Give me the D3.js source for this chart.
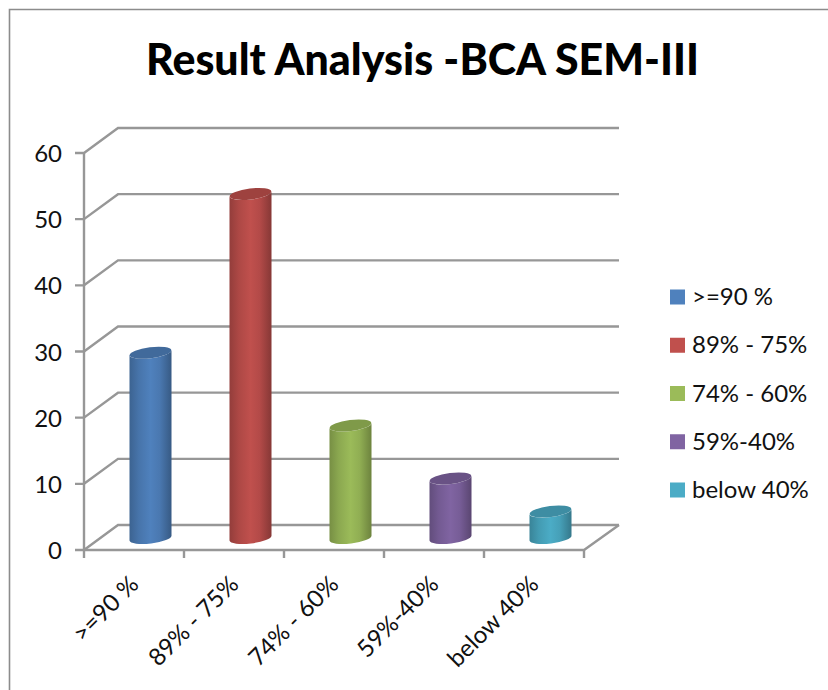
<!DOCTYPE html>
<html>
<head>
<meta charset="utf-8">
<script src="https://d3js.org/d3.v7.min.js"></script>
<style>
html, body { margin: 0; padding: 0; background: #fff; overflow: hidden; }
text { font-family: Lato, "Open Sans", sans-serif; fill: #111; }
</style>
</head>
<body>
<div id="chart"></div>
<script>
// values
let categories = ['>=90 %', '89% - 75%', '74% - 60%', '59%-40%', 'below 40%'];
let values     = [28, 52, 17, 9, 4];
let yTicks     = [0, 10, 20, 30, 40, 50, 60];
let colors     = ['#4f81bd', '#c0504d', '#9bbb59', '#8064a2', '#4bacc6'];

let w = 828;
let h = 690;
let grid = '#979797';

// fake 3d: how far the back wall sits from the front of the floor
let depth = {x: 34, y: -25};

let svg = d3.select('#chart').append('svg').attr('width', w).attr('height', h)
    .style('display', 'block');

let x = d3.scaleBand().domain(categories).range([84, 584]);
let y = d3.scaleLinear().domain([0, 60]).range([550, 153]);

// frame
svg.append('path')
    .attr('d', 'M9.5,690V9.5H828')
    .attr('fill', 'none').attr('stroke', '#8c8c8c').attr('stroke-width', 1.6);

svg.append('text')
    .attr('x', 422.5).attr('y', 75)
    .attr('text-anchor', 'middle')
    .attr('font-size', 43.4).attr('font-weight', 900)
    .attr('textLength', 553).attr('lengthAdjust', 'spacingAndGlyphs')
    .style('fill', '#000')
    .text('Result Analysis -BCA SEM-III');

// walls
let wall = svg.append('g').attr('fill', 'none').attr('stroke', grid).attr('stroke-width', 2.4);

yTicks.forEach(t => {
    wall.append('path')
        .attr('d', d3.line()([
            [75, y(t)],
            [84, y(t)],
            [84 + depth.x, y(t) + depth.y],
            [584 + depth.x + 1, y(t) + depth.y]
        ]));
});

wall.append('line').attr('x1', 84).attr('x2', 84).attr('y1', y(60)).attr('y2', y(0));
wall.append('path').attr('d', d3.line()([
    [84, y(0)], [584, y(0)], [584 + depth.x + 1, y(0) + depth.y]
]));

// x ticks sit on the band edges
categories.concat([null]).forEach((c, i) => {
    let px = c === null ? x.range()[1] : x(c);
    wall.append('line').attr('x1', px).attr('x2', px).attr('y1', y(0)).attr('y2', y(0) + 8);
});

// cylinder shading
let defs = svg.append('defs');
colors.forEach((c, i) => {
    let grad = defs.append('linearGradient').attr('id', 'cyl' + i);
    let col = d3.rgb(c);
    grad.append('stop').attr('offset', '0%').attr('stop-color', col.darker(0.75));
    grad.append('stop').attr('offset', '22%').attr('stop-color', col.darker(0.3));
    grad.append('stop').attr('offset', '50%').attr('stop-color', col);
    grad.append('stop').attr('offset', '72%').attr('stop-color', col.darker(0.2));
    grad.append('stop').attr('offset', '100%').attr('stop-color', col.darker(1));
});

// bars
let barW = 42;
let rx = barW / 2;
let ry = 5.5;
let tilt = 2.6;          // right side of the ellipse sits this much higher
let barOff = {x: 16.5, y: -12};

let bars = svg.selectAll('g.bar').data(categories).enter().append('g').attr('class', 'bar');

bars.append('path')
    .attr('fill', (d, i) => 'url(#cyl' + i + ')')
    .attr('d', (d, i) => {
        let cx = x(d) + x.bandwidth() / 2 + barOff.x;
        let top = y(values[i]) + barOff.y;
        let base = y(0) + barOff.y;
        return 'M' + (cx - rx) + ',' + (top + tilt)
            + 'L' + (cx - rx) + ',' + (base + tilt)
            + 'A' + rx + ',' + ry + ' -7 0 0 ' + (cx + rx) + ',' + (base - tilt)
            + 'L' + (cx + rx) + ',' + (top - tilt)
            + 'A' + rx + ',' + ry + ' -7 0 1 ' + (cx - rx) + ',' + (top + tilt) + 'Z';
    });

bars.append('ellipse')
    .attr('rx', rx).attr('ry', ry)
    .attr('fill', (d, i) => d3.rgb(colors[i]).darker(0.55))
    .attr('transform', (d, i) => {
        let cx = x(d) + x.bandwidth() / 2 + barOff.x;
        return 'translate(' + cx + ',' + (y(values[i]) + barOff.y) + ') rotate(-7)';
    });

// y labels
svg.selectAll('text.ylab').data(yTicks).enter().append('text')
    .attr('class', 'ylab')
    .attr('x', 62).attr('y', d => y(d) + 9)
    .attr('text-anchor', 'end')
    .attr('font-size', 24)
    .text(d => d);

// x labels
svg.selectAll('text.xlab').data(categories).enter().append('text')
    .attr('class', 'xlab')
    .attr('text-anchor', 'end')
    .attr('font-size', 24)
    .attr('transform', d => 'translate(' + (x(d) + x.bandwidth() / 2 + 6) + ',586) rotate(-45)')
    .text(d => d);

// legend
let legendY = d3.scalePoint().domain(categories).range([297, 490]);
let legend = svg.selectAll('g.leg').data(categories).enter().append('g').attr('class', 'leg')
    .attr('transform', d => 'translate(670,' + legendY(d) + ')');
legend.append('rect')
    .attr('x', 0).attr('y', -7.5).attr('width', 15).attr('height', 15)
    .attr('fill', (d, i) => colors[i]);
legend.append('text')
    .attr('x', 22).attr('y', 8)
    .attr('font-size', 24)
    .text(d => d);
</script>
</body>
</html>
